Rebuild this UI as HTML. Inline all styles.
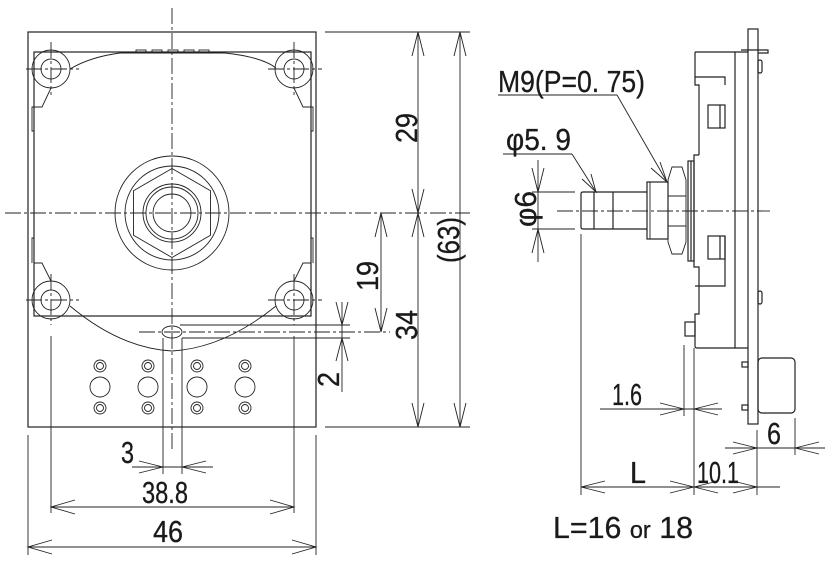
<!DOCTYPE html>
<html><head><meta charset="utf-8"><style>
html,body{margin:0;padding:0;background:#fff;}
svg{display:block;}
text{font-family:"Liberation Sans Narrow","Liberation Sans",sans-serif;fill:#1a1a1a;}
</style></head><body>
<svg width="835" height="561" viewBox="0 0 835 561" xmlns="http://www.w3.org/2000/svg">
<g fill="none" stroke="#222" stroke-width="1.2">
<rect x="28" y="32" width="288" height="395"/>
<rect x="34" y="52" width="277" height="264"/>
<g stroke-width="0.9">
<rect x="136" y="50" width="10" height="2"/><rect x="152" y="50" width="10" height="2"/><rect x="168" y="50" width="10" height="2"/><rect x="184" y="50" width="10" height="2"/><rect x="199" y="50" width="10" height="2"/>
</g>
<g stroke-width="0.9">
<circle cx="51" cy="69" r="10"/><circle cx="51" cy="69" r="19"/>
<circle cx="294" cy="69" r="10"/><circle cx="294" cy="69" r="19"/>
<circle cx="51" cy="300" r="10"/><circle cx="51" cy="300" r="19"/>
<circle cx="294" cy="300" r="10"/><circle cx="294" cy="300" r="19"/>
<path d="M70,69 Q90,57 120,53 L225,53 Q262,57 276,68"/>
<path d="M51,88 L42,107 L34,107 M34,131 L32,131 L32,107 L34,107"/>
<path d="M294,88 L303,107 L311,107 M311,131 L313,131 L313,107 L311,107"/>
<path d="M51,281 L42,263 L34,263 M32,263 L32,238 L34,238"/>
<path d="M294,281 L303,263 L311,263 M313,263 L313,238 L311,238"/>
<path d="M70,306 Q120,348 172,351 Q224,348 276,306"/>
<circle cx="172" cy="213" r="57"/><circle cx="172" cy="213" r="47"/>
<polygon points="172,168.5 210.5,190.7 210.5,235.3 172,257.5 133.5,235.3 133.5,190.7"/>
<circle cx="172" cy="213" r="29"/><circle cx="172" cy="213" r="26"/><circle cx="172" cy="213" r="19"/>
<ellipse cx="172" cy="332" rx="10" ry="6"/>
<circle cx="100" cy="366" r="6"/><circle cx="100" cy="366" r="3.5"/><circle cx="100" cy="387" r="10"/><circle cx="100" cy="408" r="6"/><circle cx="100" cy="408" r="3.5"/>
<circle cx="148" cy="366" r="6"/><circle cx="148" cy="366" r="3.5"/><circle cx="148" cy="387" r="10"/><circle cx="148" cy="408" r="6"/><circle cx="148" cy="408" r="3.5"/>
<circle cx="197" cy="366" r="6"/><circle cx="197" cy="366" r="3.5"/><circle cx="197" cy="387" r="10"/><circle cx="197" cy="408" r="6"/><circle cx="197" cy="408" r="3.5"/>
<circle cx="245" cy="366" r="6"/><circle cx="245" cy="366" r="3.5"/><circle cx="245" cy="387" r="10"/><circle cx="245" cy="408" r="6"/><circle cx="245" cy="408" r="3.5"/>
</g>
<g stroke-width="0.9" stroke-dasharray="16,3,3,3">
<line x1="172" y1="8" x2="172" y2="450"/>
<line x1="5" y1="213" x2="470" y2="213"/>
<line x1="26" y1="69" x2="79" y2="69"/><line x1="268" y1="69" x2="322" y2="69"/>
<line x1="26" y1="300" x2="79" y2="300"/><line x1="268" y1="300" x2="322" y2="300"/>
<line x1="51" y1="42" x2="51" y2="95"/><line x1="294" y1="42" x2="294" y2="95"/>
<line x1="51" y1="274" x2="51" y2="325"/><line x1="294" y1="274" x2="294" y2="325"/>
<line x1="139" y1="332" x2="390" y2="332"/>
</g>
<g stroke-width="0.9">
<line x1="51" y1="336" x2="51" y2="513"/><line x1="294" y1="336" x2="294" y2="513"/>
<line x1="28" y1="435" x2="28" y2="555"/><line x1="316" y1="435" x2="316" y2="555"/>
<line x1="163" y1="338" x2="163" y2="474"/><line x1="182" y1="338" x2="182" y2="474"/>
<line x1="180" y1="325" x2="350" y2="325"/><line x1="182" y1="338" x2="350" y2="338"/>
<line x1="325" y1="32" x2="470" y2="32"/><line x1="325" y1="427" x2="470" y2="427"/>
<line x1="28" y1="547" x2="316" y2="547"/>
<path d="M52,540 L28,547 L52,554 M292,540 L316,547 L292,554"/>
<line x1="51" y1="507" x2="294" y2="507"/>
<path d="M75,500 L51,507 L75,514 M270,500 L294,507 L270,514"/>
<line x1="132" y1="467" x2="213" y2="467"/>
<path d="M139,461 L163,467 L139,473 M206,461 L182,467 L206,473"/>
<line x1="418" y1="32" x2="418" y2="427"/>
<path d="M412,56 L418,32 L424,56 M412,189 L418,213 L424,189 M412,237 L418,213 L424,237 M412,403 L418,427 L424,403"/>
<line x1="460" y1="32" x2="460" y2="427"/>
<path d="M454,56 L460,32 L466,56 M454,403 L460,427 L466,403"/>
<line x1="381" y1="213" x2="381" y2="332"/>
<path d="M375,237 L381,213 L387,237 M375,308 L381,332 L387,308"/>
<line x1="342" y1="302" x2="342" y2="392"/>
<path d="M336,302 L342,325 L348,302 M336,361 L342,338 L348,361"/>
</g>
<rect x="748" y="29" width="10" height="395"/>
<path d="M741,50 L768,50 L768,53 L758,53"/>
<rect x="758" y="60" width="4" height="13" rx="2"/>
<rect x="758" y="291" width="4" height="13" rx="2"/>
<path d="M695,52 L748,52 M735,52 L735,348 M748,348 L697,348 Q695,348 695,346 L695,314 L699,314 L699,286 L695,286 M695,52 L695,85 L699,85 L699,155 M695,77 L725,77 L725,85 M699,155 L694,155 L694,267 L699,267 L699,286 M695,286 L725,286 L725,236"/>
<rect x="708" y="105" width="17" height="23"/><line x1="720" y1="105" x2="720" y2="128"/>
<rect x="708" y="236" width="17" height="23"/><line x1="720" y1="236" x2="720" y2="259"/>
<rect x="685" y="322" width="10" height="14"/>
<rect x="688" y="161" width="6" height="100"/>
<line x1="691" y1="161" x2="691" y2="261"/>
<path d="M672,167 L682,167 L686,180 L686,242 L682,254 L672,254 L668,242 L668,180 Z" stroke-width="0.9"/>
<path d="M668,196 L686,196 M668,226 L686,226" stroke-width="0.9"/>
<rect x="647" y="182" width="21" height="57"/>
<line x1="650" y1="182" x2="650" y2="239" stroke-width="0.9"/>
<path d="M647,192 L583,192 Q581,192 581,194 L581,227 Q581,229 583,229 L647,229"/>
<line x1="594" y1="192" x2="594" y2="229"/><line x1="613" y1="192" x2="613" y2="229"/>
<rect x="758" y="358" width="37" height="55" rx="4"/>
<rect x="742" y="362" width="6" height="5"/><rect x="742" y="405" width="6" height="5"/>
<g stroke-width="0.9">
<line x1="557" y1="211" x2="770" y2="211" stroke-dasharray="16,3,3,3"/>
<line x1="498" y1="95" x2="617" y2="95"/><line x1="617" y1="95" x2="667" y2="182"/>
<path d="M651,168 L667,182 L660,162"/>
<line x1="503" y1="154" x2="572" y2="154"/><line x1="572" y1="154" x2="596" y2="192"/>
<path d="M582,179 L596,192 L591,174"/>
<line x1="532" y1="192" x2="575" y2="192"/><line x1="532" y1="229" x2="575" y2="229"/>
<line x1="538" y1="160" x2="538" y2="262"/>
<path d="M532,168 L538,192 L544,168 M532,253 L538,229 L544,253"/>
<line x1="581" y1="234" x2="581" y2="495"/>
<line x1="684" y1="345" x2="684" y2="416"/>
<line x1="694" y1="348" x2="694" y2="495"/>
<line x1="757" y1="430" x2="757" y2="495"/>
<line x1="795" y1="418" x2="795" y2="455"/>
<line x1="600" y1="409" x2="722" y2="409"/>
<path d="M660,403 L684,409 L660,415 M718,403 L694,409 L718,415"/>
<line x1="581" y1="487" x2="780" y2="487"/>
<path d="M605,481 L581,487 L605,493 M670,481 L694,487 L670,493 M718,481 L694,487 L718,493 M733,481 L757,487 L733,493"/>
<line x1="725" y1="448" x2="825" y2="448"/>
<path d="M733,442 L757,448 L733,454 M819,442 L795,448 L819,454"/>
</g>
</g>
<g font-size="31" stroke="#1a1a1a" stroke-width="0.3">
<text x="153" y="542" textLength="30" lengthAdjust="spacingAndGlyphs">46</text>
<text x="142" y="503" textLength="46" lengthAdjust="spacingAndGlyphs">38.8</text>
<text x="121" y="463" textLength="13" lengthAdjust="spacingAndGlyphs">3</text>
<text transform="translate(417,143) rotate(-90)" textLength="30" lengthAdjust="spacingAndGlyphs">29</text>
<text transform="translate(459,263) rotate(-90)" textLength="46" lengthAdjust="spacingAndGlyphs">(63)</text>
<text transform="translate(417,340) rotate(-90)" textLength="30" lengthAdjust="spacingAndGlyphs">34</text>
<text transform="translate(378,291) rotate(-90)" textLength="30" lengthAdjust="spacingAndGlyphs">19</text>
<text transform="translate(339,387) rotate(-90)" textLength="15" lengthAdjust="spacingAndGlyphs">2</text>
<text x="498" y="92" textLength="147" lengthAdjust="spacingAndGlyphs">M9(P=0. 75)</text>
<text x="506" y="150" textLength="65" lengthAdjust="spacingAndGlyphs">φ5. 9</text>
<text transform="translate(536,227) rotate(-90)" textLength="36" lengthAdjust="spacingAndGlyphs">φ6</text>
<text x="612" y="405" textLength="30" lengthAdjust="spacingAndGlyphs">1.6</text>
<text x="630" y="483" textLength="16" lengthAdjust="spacingAndGlyphs">L</text>
<text x="697" y="483" textLength="42" lengthAdjust="spacingAndGlyphs">10.1</text>
<text x="767" y="444" textLength="14" lengthAdjust="spacingAndGlyphs">6</text>
<text x="553" y="538" textLength="140" lengthAdjust="spacingAndGlyphs">L=16 <tspan font-size="24">or</tspan> 18</text>
</g>
</svg>
</body></html>
